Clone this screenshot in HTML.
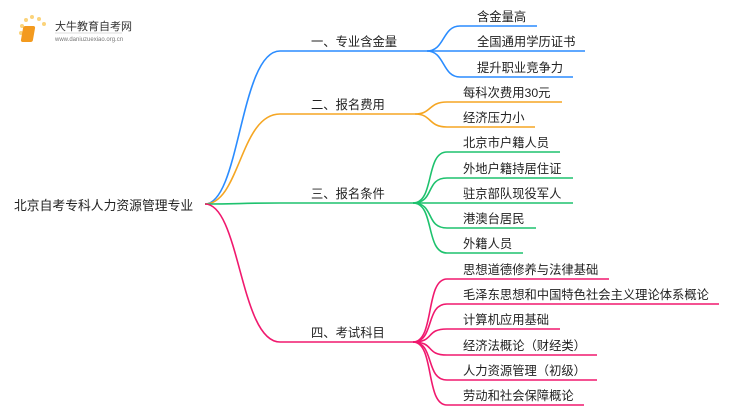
<!DOCTYPE html>
<html><head><meta charset="utf-8"><style>
body{margin:0;background:#fff;}
svg{display:block;font-family:"Liberation Sans","Noto Sans CJK SC",sans-serif;}
text{fill:#222;font-size:12.3px;}
</style></head><body>
<svg width="750" height="410" viewBox="0 0 750 410" xmlns="http://www.w3.org/2000/svg">
<g>
<circle cx="22" cy="26" r="2" fill="#fbd37a"/><circle cx="26" cy="20" r="2" fill="#fbd37a"/><circle cx="32" cy="17" r="2" fill="#fbd37a"/><circle cx="39" cy="19" r="2" fill="#fbd37a"/><circle cx="44" cy="24" r="2" fill="#fbd37a"/><circle cx="21" cy="33" r="2" fill="#fbd37a"/><circle cx="23" cy="40" r="1.5" fill="#fbd37a"/>
<rect x="28" y="26" width="12" height="16" rx="2" fill="#f39a1e" transform="skewX(-10)"/>
<text x="55" y="30" style="font-size:11px;fill:#333">大牛教育自考网</text>
<line x1="55" y1="33" x2="122" y2="33" stroke="#ddd"/>
<text x="55" y="41" style="font-size:6px;fill:#777">www.daniuzuexiao.org.cn</text>
</g>
<g fill="none" stroke-width="1.6">
<path d="M205 204 C240 204 240 51 280 51 L427 51" stroke="#2a8cff"/>
<path d="M205 204 C240 204 240 114 280 114 L415 114" stroke="#f5a623"/>
<path d="M205 204 C240 204 240 203 280 203 L413 203" stroke="#1ec26e"/>
<path d="M205 204 C240 204 240 342 280 342 L413 342" stroke="#f0196e"/>
<g stroke="#2a8cff">
<path d="M427 51 C445 51 442 26 460 26 L537 26"/>
<path d="M427 51 L585 51"/>
<path d="M427 51 C445 51 442 77 460 77 L573 77"/>
</g>
<g stroke="#f5a623">
<path d="M415 114 C432 114 428 102 447 102 L562 102"/>
<path d="M415 114 C432 114 428 127 447 127 L535 127"/>
</g>
<g stroke="#1ec26e">
<path d="M413 203 C435 203 425 152 447 152 L560 152"/>
<path d="M413 203 C435 203 425 178 447 178 L573 178"/>
<path d="M413 203 L573 203"/>
<path d="M413 203 C435 203 425 228 447 228 L536 228"/>
<path d="M413 203 C435 203 425 253 447 253 L523 253"/>
</g>
<g stroke="#f0196e">
<path d="M413 342 C435 342 425 279 447 279 L609 279"/>
<path d="M413 342 C435 342 425 304 447 304 L719 304"/>
<path d="M413 342 C435 342 425 329 447 329 L560 329"/>
<path d="M413 342 C435 342 425 355 447 355 L597 355"/>
<path d="M413 342 C435 342 425 380 447 380 L597 380"/>
<path d="M413 342 C435 342 425 405 447 405 L584 405"/>
</g>
</g>
<text x="14" y="210" style="font-size:12.8px">北京自考专科人力资源管理专业</text>
<text x="311" y="46">一、专业含金量</text>
<text x="311" y="109">二、报名费用</text>
<text x="311" y="198">三、报名条件</text>
<text x="311" y="337">四、考试科目</text>
<text x="477" y="21">含金量高</text>
<text x="477" y="46">全国通用学历证书</text>
<text x="477" y="72">提升职业竞争力</text>
<text x="463" y="97">每科次费用30元</text>
<text x="463" y="122">经济压力小</text>
<text x="463" y="147">北京市户籍人员</text>
<text x="463" y="173">外地户籍持居住证</text>
<text x="463" y="198">驻京部队现役军人</text>
<text x="463" y="223">港澳台居民</text>
<text x="463" y="248">外籍人员</text>
<text x="463" y="274">思想道德修养与法律基础</text>
<text x="463" y="299">毛泽东思想和中国特色社会主义理论体系概论</text>
<text x="463" y="324">计算机应用基础</text>
<text x="463" y="350">经济法概论（财经类）</text>
<text x="463" y="375">人力资源管理（初级）</text>
<text x="463" y="400">劳动和社会保障概论</text>
</svg>
</body></html>
